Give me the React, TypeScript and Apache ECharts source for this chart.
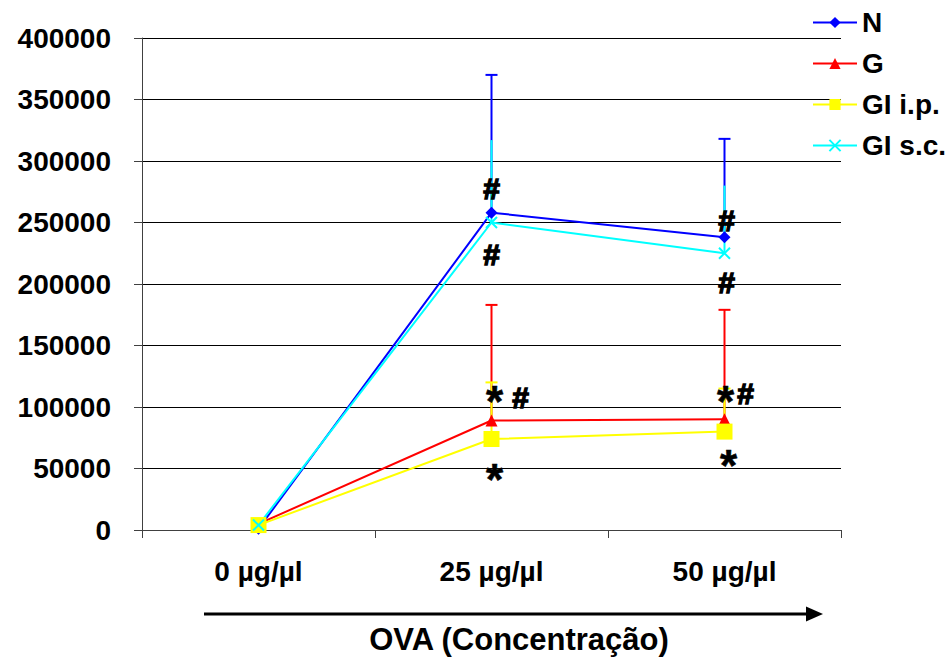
import React, { useEffect, useRef } from "react";
import * as echarts from "echarts";

// OVA dose groups on the x axis
const categories = ["0 µg/µl", "25 µg/µl", "50 µg/µl"];

// Group means
const nValues = [1000, 258000, 238000];
const gValues = [5000, 89000, 90000];
const giIpValues = [4000, 74000, 80000];
const giScValues = [4000, 250000, 225000];

// Upper error bar lengths (positive only)
const nErrors = [0, 112000, 80000];
const gErrors = [0, 94000, 89000];
const giIpErrors = [0, 46000, 35000];
const giScErrors = [0, 67000, 55000];

const yTicks = [0, 50000, 100000, 150000, 200000, 250000, 300000, 350000, 400000];

// Significance marks: category index, value at glyph centre, glyph, horizontal shift
const markCategory = [1, 1, 1, 1, 1, 2, 2, 2, 2, 2];
const markValue = [278000, 224000, 110000, 108000, 47000, 252000, 201000, 110500, 111000, 58000];
const markText = ["#", "#", "*", "#", "*", "#", "#", "*", "#", "*"];
const markShift = [0, 0, 3, 29, 3, 2, 2, 1, 21, 4];

const FONT = '"Liberation Sans", Arial, Helvetica, sans-serif';

interface Group {
  name: string;
  color: string;
  values: number[];
  errors: number[];
  symbol: string;
  symbolSize: number;
  cap: boolean;
  stroke?: boolean;
}

const groups: Group[] = [
  { name: "N", color: "#0000FF", values: nValues, errors: nErrors, symbol: "diamond", symbolSize: 12, cap: true },
  { name: "G", color: "#FF0000", values: gValues, errors: gErrors, symbol: "triangle", symbolSize: 12, cap: true },
  { name: "GI i.p.", color: "#FFFF00", values: giIpValues, errors: giIpErrors, symbol: "rect", symbolSize: 16, cap: true },
  {
    name: "GI s.c.",
    color: "#00FFFF",
    values: giScValues,
    errors: giScErrors,
    symbol: "path://M0,0L10,10M10,0L0,10",
    symbolSize: 11,
    cap: false,
    stroke: true,
  },
];

export default function App() {
  const ref = useRef<HTMLDivElement>(null);

  useEffect(() => {
    document.body.style.margin = "0";
    if (!ref.current) return;
    const chart = echarts.init(ref.current, undefined, { renderer: "svg" });

    const errorSeries = groups.map((g) => ({
      type: "custom",
      name: g.name + " error",
      z: 1,
      silent: true,
      data: g.values.map((v, i) => [i, v, v + g.errors[i]]),
      renderItem: (params: any, api: any) => {
        const base = api.coord([api.value(0), api.value(1)]);
        const top = api.coord([api.value(0), api.value(2)]);
        const children: any[] = [
          {
            type: "line",
            shape: { x1: base[0], y1: base[1], x2: top[0], y2: top[1] },
            style: { stroke: g.color, lineWidth: 2 },
          },
        ];
        if (g.cap && api.value(2) > api.value(1)) {
          children.push({
            type: "line",
            shape: { x1: top[0] - 6, y1: top[1], x2: top[0] + 6, y2: top[1] },
            style: { stroke: g.color, lineWidth: 2 },
          });
        }
        return { type: "group", children };
      },
    }));

    const lineSeries = groups.map((g) => ({
      type: "line",
      name: g.name,
      z: 3,
      data: g.values,
      symbol: g.symbol,
      symbolSize: g.symbolSize,
      showAllSymbol: true,
      color: g.color,
      lineStyle: { color: g.color, width: 2 },
      itemStyle: g.stroke
        ? { color: g.color, borderColor: g.color, borderWidth: 2 }
        : { color: g.color, borderWidth: 0 },
    }));

    // Significance glyphs drawn as text at data positions
    const markSeries = {
      type: "custom",
      name: "marks",
      z: 5,
      silent: true,
      data: markValue.map((v, i) => [markCategory[i], v, i]),
      renderItem: (params: any, api: any) => {
        const idx = api.value(2);
        const p = api.coord([api.value(0), api.value(1)]);
        const txt = markText[idx];
        const star = txt === "*";
        return {
          type: "text",
          x: p[0] + markShift[idx],
          y: p[1] + (star ? 7 : 0),
          style: {
            text: txt,
            fill: "#000",
            stroke: "#000",
            lineWidth: star ? 0.6 : 1.4,
            fontSize: star ? 44 : 30,
            fontWeight: "bold",
            fontFamily: FONT,
            align: "center",
            verticalAlign: "middle",
          },
        };
      },
    };

    chart.setOption({
      animation: false,
      backgroundColor: "#fff",
      grid: { left: 142, right: 111, top: 38, bottom: 133 },
      legend: {
        data: groups.map((g) => g.name),
        orient: "vertical",
        left: 807,
        top: 3,
        itemWidth: 44,
        itemHeight: 14,
        itemGap: 12,
        textStyle: {
          fontSize: 28,
          fontWeight: "bold",
          fontFamily: FONT,
          color: "#000",
          lineHeight: 29,
        },
      },
      xAxis: {
        type: "category",
        data: categories,
        boundaryGap: true,
        axisLine: { lineStyle: { color: "#404040", width: 1 } },
        axisTick: { show: true, length: 8, lineStyle: { color: "#404040" } },
        axisLabel: {
          fontSize: 28,
          fontWeight: "bold",
          fontFamily: FONT,
          color: "#000",
          margin: 27,
        },
        splitLine: { show: false },
      },
      yAxis: {
        type: "value",
        min: yTicks[0],
        max: yTicks[yTicks.length - 1],
        interval: yTicks[1] - yTicks[0],
        axisLine: { show: true, lineStyle: { color: "#404040", width: 1 } },
        axisTick: { show: true, length: 8, lineStyle: { color: "#404040" } },
        axisLabel: {
          fontSize: 28,
          fontWeight: "bold",
          fontFamily: FONT,
          color: "#000",
          margin: 31,
          formatter: (v: number) => String(v),
        },
        splitLine: { show: true, lineStyle: { color: "#000", width: 1 } },
      },
      graphic: [
        {
          type: "line",
          shape: { x1: 204, y1: 614, x2: 810, y2: 614 },
          style: { stroke: "#000", lineWidth: 3 },
        },
        {
          type: "polygon",
          shape: { points: [[806, 606.5], [823, 614], [806, 621.5]] },
          style: { fill: "#000" },
        },
        {
          type: "text",
          x: 519,
          y: 639,
          style: {
            text: "OVA (Concentração)",
            fill: "#000",
            fontSize: 31,
            fontWeight: "bold",
            fontFamily: FONT,
            align: "center",
            verticalAlign: "middle",
          },
        },
      ],
      series: [...errorSeries, ...lineSeries, markSeries],
    });

    return () => chart.dispose();
  }, []);

  return <div ref={ref} style={{ width: 952, height: 663 }} />;
}
